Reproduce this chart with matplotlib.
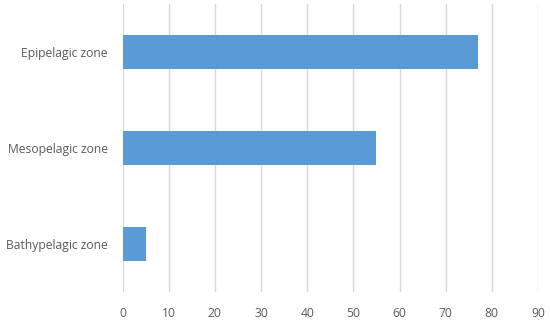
import matplotlib
matplotlib.use("Agg")
import matplotlib.pyplot as plt

categories = ["Epipelagic zone", "Mesopelagic zone", "Bathypelagic zone"]
values = [77, 55, 5]
xticks = [0, 10, 20, 30, 40, 50, 60, 70, 80, 90]

plt.rcParams['font.family'] = ['Open Sans', 'DejaVu Sans']

fig = plt.figure(figsize=(5.5, 3.24), dpi=100)
ax = fig.add_axes([122.5/550, 1-292/324, (538-122.5)/550, 288/324])

ypos = list(range(len(categories)))[::-1]
ax.barh(ypos, values, height=0.344, color="#5B9BD5", zorder=3)
ax.set_ylim(-0.5, 2.5)
ax.set_xlim(0, 90)
ax.set_xticks(xticks)
ax.set_xticklabels([str(t) for t in xticks])
ax.set_yticks(ypos)
ax.set_yticklabels(categories)
ax.grid(axis='x', color="#D9D9D9", linewidth=1, zorder=0)
ax.grid(axis='y', visible=False)
for s in ax.spines.values():
    s.set_visible(False)
ax.tick_params(length=0, labelsize=8.7, colors="#595959")
ax.tick_params(axis='x', pad=11)
ax.tick_params(axis='y', pad=10.5)

fig.savefig("out.png", dpi=100)
